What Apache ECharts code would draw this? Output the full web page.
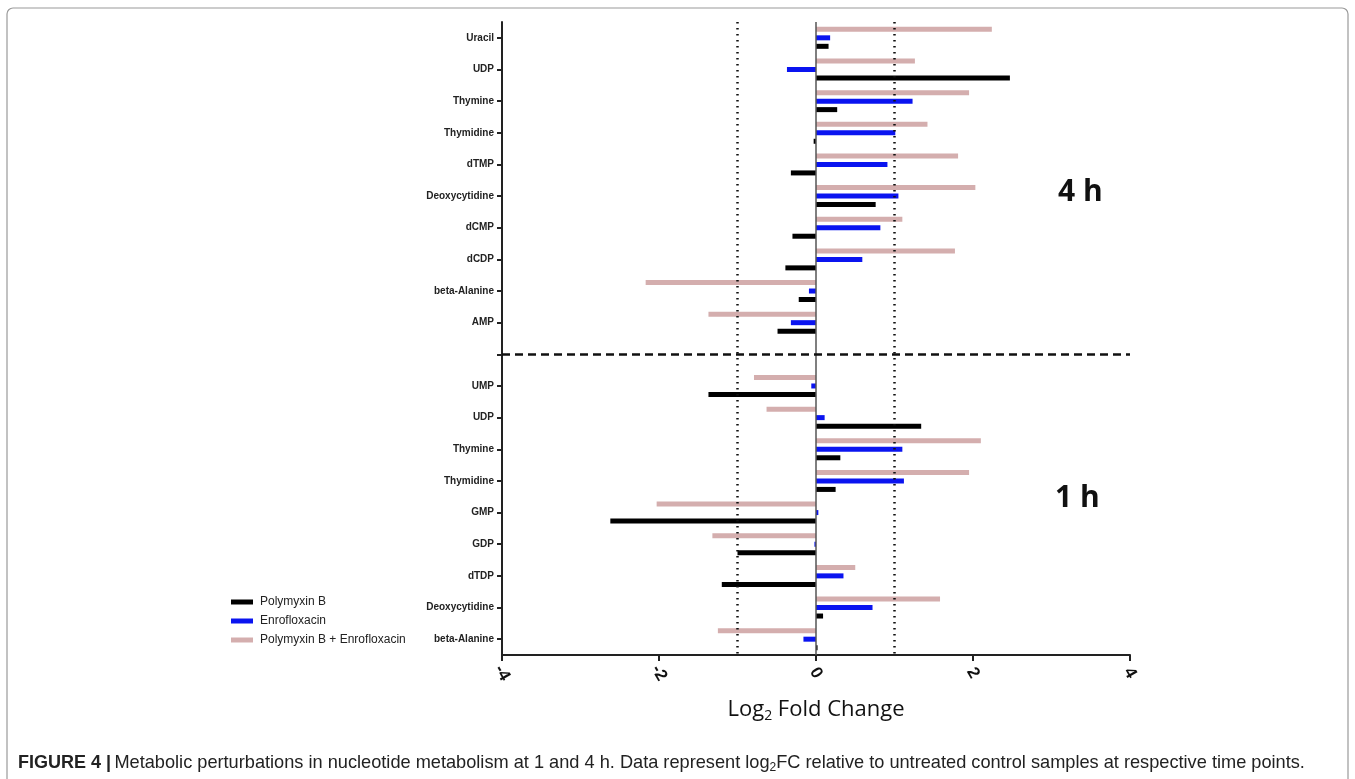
<!DOCTYPE html>
<html>
<head>
  <meta charset="utf-8">
  <title>Log2 Fold Change</title>
  <script src="https://cdn.jsdelivr.net/npm/echarts@6/dist/echarts.min.js"></script>
  <style>
    html, body { margin: 0; padding: 0; background: #fff; }
    #chart { width: 1355px; height: 779px; }
  </style>
</head>
<body>
  <div id="chart"></div>
  <script>
    // categories, top to bottom (blank slot separates 4 h and 1 h)
    const cats4h = ['Uracil', 'UDP', 'Thymine', 'Thymidine', 'dTMP', 'Deoxycytidine', 'dCMP', 'dCDP', 'beta-Alanine', 'AMP'];
    const cats1h = ['UMP', 'UDP', 'Thymine', 'Thymidine', 'GMP', 'GDP', 'dTDP', 'Deoxycytidine', 'beta-Alanine'];

    const combo4h = [2.24, 1.26, 1.95, 1.42, 1.81, 2.03, 1.10, 1.77, -2.17, -1.37];
    const enro4h  = [0.18, -0.37, 1.23, 1.01, 0.91, 1.05, 0.82, 0.59, -0.09, -0.32];
    const poly4h  = [0.16, 2.47, 0.27, -0.03, -0.32, 0.76, -0.30, -0.39, -0.22, -0.49];

    const combo1h = [-0.79, -0.63, 2.10, 1.95, -2.03, -1.32, 0.50, 1.58, -1.25];
    const enro1h  = [-0.06, 0.11, 1.10, 1.12, 0.03, -0.02, 0.35, 0.72, -0.16];
    const poly1h  = [-1.37, 1.34, 0.31, 0.25, -2.62, -1.00, -1.20, 0.09, 0.02];

    const xTicks = [-4, -2, 0, 2, 4];
    const thresholds = [-1, 1];

    const categories = [...cats4h, '', ...cats1h];
    const gapIndex = cats4h.length;
    const join = (a, b) => [...a, null, ...b];

    const font = 'Liberation Sans, Arial, sans-serif';
    const chart = echarts.init(document.getElementById('chart'));

    chart.setOption({
      animation: false,
      backgroundColor: '#fff',
      grid: { left: 502, right: 225, top: 22, bottom: 124 },
      legend: {
        orient: 'vertical',
        left: 226,
        top: 591,
        icon: 'rect',
        itemWidth: 22,
        itemHeight: 5,
        itemGap: 7,
        data: ['Polymyxin B', 'Enrofloxacin', 'Polymyxin B + Enrofloxacin'],
        textStyle: { fontFamily: font, fontSize: 12, color: '#222', padding: [0, 0, 0, 2] }
      },
      xAxis: {
        type: 'value',
        min: -4,
        max: 4,
        interval: 2,
        splitLine: { show: false },
        axisLine: { show: true, onZero: false, lineStyle: { color: '#222', width: 2 } },
        axisTick: { show: true, length: 6, lineStyle: { color: '#222', width: 2 } },
        axisLabel: {
          rotate: -60,
          margin: 18,
          align: 'center',
          verticalAlign: 'middle',
          fontFamily: font,
          fontWeight: 'bold',
          fontSize: 17,
          color: '#111',
          formatter: v => xTicks.includes(v) ? String(v) : ''
        },
        name: '{a|Log}{s|2}{a| Fold Change}',
        nameLocation: 'middle',
        nameGap: 42,
        nameTextStyle: {
          rich: {
            a: { fontFamily: 'Open Sans, sans-serif', fontSize: 22, color: '#111' },
            s: { fontFamily: 'Open Sans, sans-serif', fontSize: 14, color: '#111', verticalAlign: 'bottom', padding: [12, 0, 0, 0] }
          }
        }
      },
      yAxis: {
        type: 'category',
        inverse: true,
        data: categories,
        axisLine: { show: true, onZero: false, lineStyle: { color: '#222', width: 2 } },
        axisTick: { show: true, alignWithLabel: true, length: 5, lineStyle: { color: '#222', width: 2 } },
        axisLabel: {
          margin: 8,
          interval: 0,
          fontFamily: font,
          fontWeight: 'bold',
          fontSize: 10,
          color: '#222'
        }
      },
      series: [
        {
          name: 'Polymyxin B + Enrofloxacin',
          type: 'bar',
          data: join(combo4h, combo1h),
          barWidth: 5,
          barGap: '70%',
          itemStyle: { color: '#d4aeae' }
        },
        {
          name: 'Enrofloxacin',
          type: 'bar',
          data: join(enro4h, enro1h),
          barWidth: 5,
          barGap: '70%',
          itemStyle: { color: '#0a14f0' },
          markLine: {
            silent: true,
            symbol: 'none',
            label: { show: false },
            data: [
              { xAxis: 0, lineStyle: { color: '#555', width: 1.5, type: 'solid' } },
              ...thresholds.map(t => ({ xAxis: t, lineStyle: { color: '#111', width: 2.5, type: [1.5, 4.5] } })),
              { yAxis: gapIndex, lineStyle: { color: '#111', width: 2.5, type: [8, 5] } }
            ]
          }
        },
        {
          name: 'Polymyxin B',
          type: 'bar',
          data: join(poly4h, poly1h),
          barWidth: 5,
          barGap: '70%',
          itemStyle: { color: '#000' }
        }
      ],
      graphic: [
        {
          type: 'rect',
          silent: true,
          shape: { x: 7, y: 8, width: 1341, height: 790, r: 6 },
          style: { fill: 'none', stroke: '#9a9a9a', lineWidth: 1.2 }
        },
        {
          type: 'text',
          left: 1058,
          top: 177,
          style: { text: '4 h', font: 'bold 30px "Open Sans", sans-serif', fill: '#111' }
        },
        {
          type: 'text',
          left: 1055,
          top: 483,
          style: { text: '1 h', font: 'bold 30px "Open Sans", sans-serif', fill: '#111' }
        },
        {
          type: 'text',
          left: 18,
          top: 754,
          style: {
            text: '{b|FIGURE 4 |} {n|Metabolic perturbations in nucleotide metabolism at 1 and 4 h. Data represent log}{sub|2}{n|FC relative to untreated control samples at respective time points.}',
            rich: {
              b: { font: 'bold 18px "Liberation Sans", sans-serif', fill: '#222' },
              n: { font: '18.2px "Liberation Sans", sans-serif', fill: '#222' },
              sub: { font: '12px "Liberation Sans", sans-serif', fill: '#222', padding: [9, 0, 0, 0] }
            }
          }
        }
      ]
    });
  </script>
</body>
</html>
